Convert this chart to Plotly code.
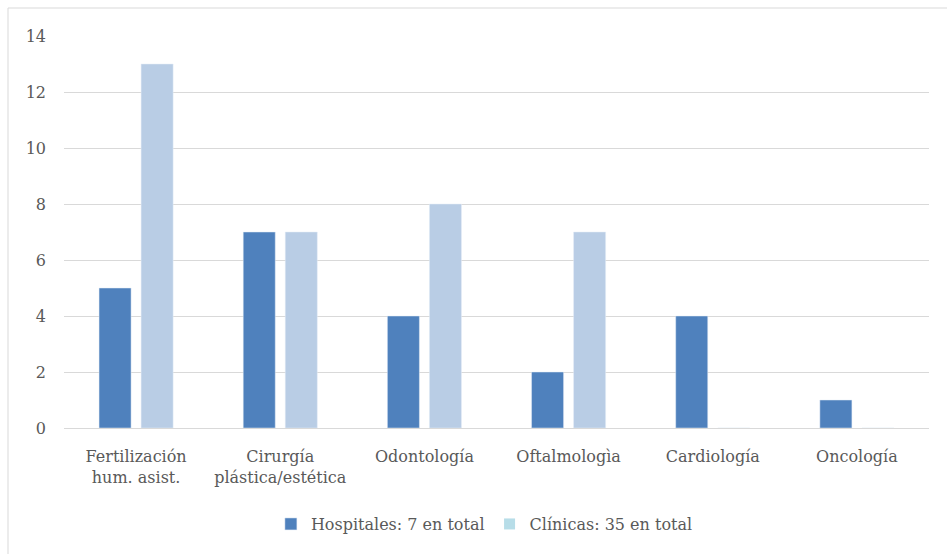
import plotly.graph_objects as go

# Specialties and counts per type of centre
categorias = [
    "Fertilización<br>hum. asist.",
    "Cirurgía<br>plástica/estética",
    "Odontología",
    "Oftalmologìa",
    "Cardiología",
    "Oncología",
]
hospitales = [5, 7, 4, 2, 4, 1]
clinicas = [13, 7, 8, 7, 0, 0]

nombre_hosp = "Hospitales: 7 en total"
nombre_clin = "Clínicas: 35 en total"
y_ticks = [0, 2, 4, 6, 8, 10, 12, 14]

FONT = "DejaVu Serif"
TXT = "#595959"
GRID = "#D9D9D9"
C_HOSP = "#4F81BD"
C_CLIN = "#B9CDE5"
C_CLIN_KEY = "#B7DDE8"
FS = 16

fig = go.Figure()
fig.add_trace(go.Bar(
    x=categorias, y=hospitales, name=nombre_hosp,
    marker=dict(color=C_HOSP), showlegend=True,
))
fig.add_trace(go.Bar(
    x=categorias, y=clinicas, name=nombre_clin,
    marker=dict(color=C_CLIN), showlegend=False,
))
# legend key for the clinics series
fig.add_trace(go.Scatter(
    x=[None], y=[None], mode="markers", name=nombre_clin,
    marker=dict(symbol="square", size=11, color=C_CLIN_KEY),
))

fig.update_layout(
    width=947, height=554,
    margin=dict(l=64, r=18, t=36, b=126),
    paper_bgcolor="white", plot_bgcolor="white",
    barmode="group", bargap=0.4167, bargroupgap=0.238,
    font=dict(family=FONT, size=FS, color=TXT),
    showlegend=True,
    legend=dict(
        orientation="h", x=0.486, xanchor="center", y=-0.245, yanchor="middle",
        font=dict(family=FONT, size=FS, color=TXT),
        itemwidth=30, tracegroupgap=0,
    ),
    shapes=[dict(
        type="rect", xref="paper", yref="paper",
        x0=(8 - 64) / 865, x1=1.2, y0=-0.5, y1=1 + 28 / 392,
        line=dict(color=GRID, width=1), fillcolor="rgba(0,0,0,0)", layer="below",
    )],
)
fig.update_xaxes(
    showgrid=False, showline=False, ticks="", ticklabelstandoff=17,
    tickfont=dict(family=FONT, size=FS, color=TXT),
)
fig.update_yaxes(
    range=[0, 14], tickvals=y_ticks, showgrid=True, gridcolor=GRID, gridwidth=1,
    zeroline=True, zerolinecolor=GRID, zerolinewidth=1,
    showline=False, ticks="", ticklabelstandoff=17,
    tickfont=dict(family=FONT, size=FS, color=TXT),
)

fig.write_html("out.html")
